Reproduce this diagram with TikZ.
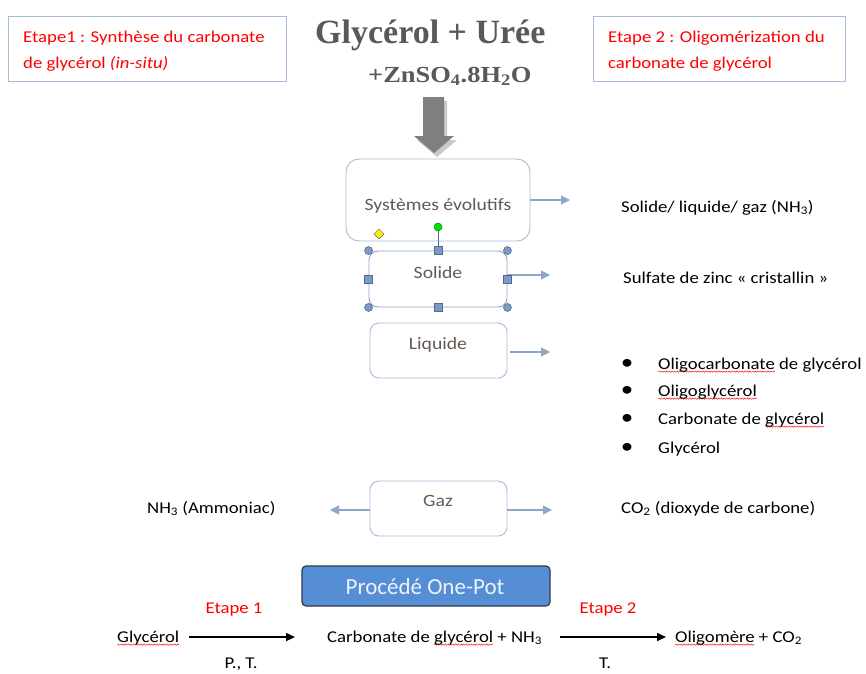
\documentclass[tikz,border=0pt]{standalone}
\usepackage{fontspec}
\setmainfont{Carlito}[FakeStretch=1.136]
\newfontfamily\procfont{Carlito}
\newfontfamily\tnr{Liberation Serif}
\newfontfamily\tnrw{Liberation Serif}[FakeStretch=1.15]
\usetikzlibrary{arrows.meta,decorations.pathmorphing,shapes.geometric}
\definecolor{boxblue}{HTML}{A7BCDB}
\definecolor{arrowblue}{HTML}{8DA6CA}
\definecolor{boxtext}{HTML}{645A54}
\definecolor{titlegrey}{HTML}{595959}
\definecolor{arrowgrey}{HTML}{7F7F7F}
\definecolor{shadowgrey}{HTML}{C9C9C9}
\definecolor{procblue}{HTML}{558ED5}
\definecolor{procborder}{HTML}{2E3A4A}
\definecolor{proctext}{HTML}{EEF3FA}
\definecolor{handle}{HTML}{7E9AC4}
\definecolor{handledark}{HTML}{4F6A93}
\definecolor{solidline}{HTML}{8FA6C6}
\newsavebox\wvbox
\newlength\wvlen
\newcommand\wv[1]{\sbox\wvbox{#1}\setlength\wvlen{\wd\wvbox}\tikz[overlay,baseline=0pt]\draw[red,line width=0.4pt,decorate,decoration={snake,amplitude=0.7pt,segment length=2.6pt}] (0pt,-2.6pt) -- (\wvlen,-2.6pt);\usebox\wvbox}
\tikzset{
 lbox/.style={draw=boxblue, line width=0.9pt, rounded corners=9pt, inner sep=0pt},
 rbox/.style={draw=boxblue, line width=1pt, inner sep=0pt},
 t/.style={inner sep=0pt, font=\fontsize{16.5}{19}\selectfont, text=black},
 bl/.style={t, anchor=base west},
 rt/.style={bl, text=red},
 gt/.style={t, anchor=base, text=boxtext, font=\fontsize{17.3}{20}\selectfont},
 barrow/.style={draw=arrowblue, line width=1.1pt, -{Triangle[length=9pt,width=9pt]}},
 karrow/.style={draw=black, line width=1.6pt, -{Triangle[length=9pt,width=8pt]}},
 hdot/.style={circle, fill=handle, draw=handledark, line width=0.6pt, minimum size=8pt, inner sep=0pt},
 hsq/.style={rectangle, fill=handle, draw=handledark, line width=0.6pt, minimum size=8pt, inner sep=0pt},
 bul/.style={t, anchor=center, font=\fontsize{22}{24}\selectfont},
}
\begin{document}
\begin{tikzpicture}[x=1pt,y=-1pt]
\useasboundingbox (0,0) rectangle (866,673);
\fill[white] (0,0) rectangle (866,673);
% red step boxes
\node[rbox, minimum width=278pt, minimum height=65pt] (e1box) at (147.5,48.5) {};
\node[rt] (e1a) at (23,42) {Etape1 : Synthèse du carbonate};
\node[rt] (e1b) at (23,68) {de glycérol \textit{(in-situ)}};
\node[rbox, minimum width=252pt, minimum height=65pt] (e2box) at (719,48.5) {};
\node[rt] (e2a) at (608,42) {Etape 2 : Oligomérization du};
\node[rt] (e2b) at (608,68) {carbonate de glycérol};
% title
\node[anchor=base west, inner sep=0pt, font=\tnr\bfseries\fontsize{34}{40}\selectfont, text=titlegrey] (title) at (315,43) {Glycérol + Urée};
\node[anchor=base west, inner sep=0pt, font=\tnrw\bfseries\fontsize{23}{28}\selectfont, text=titlegrey] (zn) at (368,82) {+ZnSO\textsubscript{4}.8H\textsubscript{2}O};
% big arrow
\fill[shadowgrey] (426,101) -- (447,101) -- (447,140) -- (457,140) -- (437,157) -- (417,140) -- (426,140) -- cycle;
\fill[arrowgrey] (423,97) -- (444,97) -- (444,136) -- (454,136) -- (434,153) -- (414,136) -- (423,136) -- cycle;
% boxes
\node[lbox, rounded corners=13pt, minimum width=184pt, minimum height=82pt] (sys) at (438,200) {};
\node[gt] (syst) at (438,210) {Systèmes évolutifs};
\node[lbox, draw=solidline, minimum width=138pt, minimum height=56pt] (sol) at (438,279) {};
\node[gt] (solt) at (438,278) {Solide};
\node[lbox, minimum width=137pt, minimum height=55pt] (liq) at (438.5,350.5) {};
\node[gt] (liqt) at (438,349) {Liquide};
\node[lbox, minimum width=137pt, minimum height=55pt] (gaz) at (438.5,508.5) {};
\node[gt] (gazt) at (438,506) {Gaz};
% arrow ends
\coordinate (sysend) at (570,200);
\coordinate (solend) at (550,275);
\coordinate (liqend) at (550,352);
\coordinate (gazl) at (330,510);
\coordinate (gazr) at (552,510);
\draw[barrow] (sys.east) -- (sysend);
\draw[barrow] ([yshift=4pt]sol.east) -- (solend);
\draw[barrow] ([xshift=3pt,yshift=-1.5pt]liq.east) -- (liqend);
\draw[barrow] ([yshift=-1.5pt]gaz.west) -- (gazl);
\draw[barrow] ([yshift=-1.5pt]gaz.east) -- (gazr);
% selection handles
\node[hsq] (hn) at (sol.north) {};
\node[circle, fill=green!90!black, draw=green!50!black, line width=0.5pt, minimum size=8pt, inner sep=0pt] (rot) at (438,227) {};
\draw[handledark, line width=0.8pt] (rot) -- (hn);
\node[hdot] (hnw) at (sol.north west) {};
\node[hdot] (hne) at (sol.north east) {};
\node[hdot] (hsw) at (sol.south west) {};
\node[hdot] (hse) at (sol.south east) {};
\node[hsq] (hw) at (sol.west) {};
\node[hsq] (he) at (sol.east) {};
\node[hsq] (hs) at (sol.south) {};
\node[diamond, fill=yellow, draw=black!60, line width=0.5pt, minimum size=10pt, inner sep=0pt] (adj) at (379,234) {};
% right texts
\node[bl] (slg) at (621,212) {Solide/ liquide/ gaz (NH\textsubscript{3})};
\node[bl] (sulf) at (623,283) {Sulfate de zinc « cristallin »};
\node[bul] (b1) at (627,364) {•};
\node[bul] (b2) at (627,391) {•};
\node[bul] (b3) at (627,419) {•};
\node[bul] (b4) at (627,448) {•};
\node[bl] (l1) at (658,369) {\wv{Oligocarbonate} de glycérol};
\node[bl] (l2) at (658,396) {\wv{Oligoglycérol}};
\node[bl] (l3) at (658,424) {Carbonate de \wv{glycérol}};
\node[bl] (l4) at (658,453) {Glycérol};
\node[bl] (nh3) at (147,513) {NH\textsubscript{3} (Ammoniac)};
\node[bl] (co2) at (621,513) {CO\textsubscript{2} (dioxyde de carbone)};
% one-pot
\node[draw=procborder, fill=procblue, line width=1.2pt, rounded corners=4pt, minimum width=248pt, minimum height=40pt, inner sep=0pt] (proc) at (426,586) {};
\node[anchor=base, inner sep=0pt, font=\procfont\fontsize{23}{26}\selectfont, text=proctext] (proct) at (425,594) {Procédé One-Pot};
\node[t, anchor=base, text=red] (et1) at (234,613) {Etape 1};
\node[t, anchor=base, text=red] (et2) at (608,613) {Etape 2};
\node[bl] (gly) at (117,642) {\wv{Glycérol}};
\node[bl] (carb) at (327,642) {Carbonate de \wv{glycérol} + NH\textsubscript{3}};
\node[bl] (olig) at (675,642) {\wv{Oligomère} + CO\textsubscript{2}};
\draw[karrow] ([xshift=10pt,yshift=5pt]gly.base east) -- ([xshift=-32pt,yshift=5pt]carb.base west);
\draw[karrow] ([xshift=18pt,yshift=5pt]carb.base east) -- ([xshift=-9pt,yshift=5pt]olig.base west);
\node[t, anchor=base] (pt) at (241,668) {P., T.};
\node[t, anchor=base] (tt) at (605,668) {T.};
\end{tikzpicture}
\end{document}
